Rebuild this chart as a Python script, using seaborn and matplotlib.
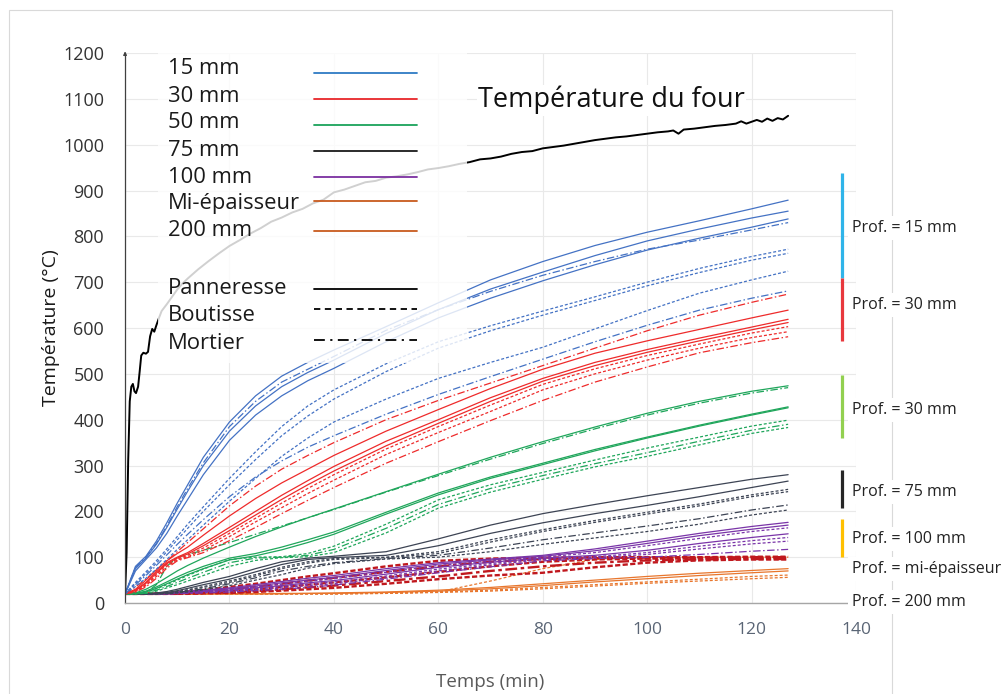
import matplotlib
matplotlib.use("Agg")
import matplotlib.pyplot as plt
import seaborn as sns
import pandas as pd
from matplotlib.patches import Rectangle

# ---------------- data ----------------
time_min = [0, 2, 4, 6, 8, 10, 12, 15, 20, 25, 30, 35, 40, 50, 60, 70, 80, 90, 100, 110, 120, 127]

# 15 mm
b15_pan1 = [20, 80, 102, 135, 175, 218, 258, 318, 395, 452, 495, 525, 552, 603, 655, 705, 745, 780, 809, 834, 860, 879]
b15_pan2 = [20, 75, 98, 128, 165, 205, 244, 300, 375, 430, 472, 503, 530, 588, 640, 685, 722, 758, 790, 816, 840, 855]
b15_pan3 = [20, 70, 95, 120, 152, 190, 226, 280, 355, 410, 452, 485, 512, 570, 622, 665, 703, 738, 770, 796, 820, 838]
b15_mor1 = [20, 78, 100, 130, 168, 210, 250, 306, 385, 440, 482, 510, 538, 595, 640, 680, 715, 745, 772, 792, 814, 830]
b15_bou1 = [20, 45, 68, 92, 118, 145, 172, 210, 272, 330, 385, 430, 465, 522, 570, 605, 637, 668, 700, 730, 756, 772]
b15_bou2 = [20, 42, 64, 87, 112, 138, 163, 200, 258, 313, 365, 408, 445, 505, 556, 594, 628, 660, 692, 721, 748, 763]
b15_bou3 = [20, 36, 54, 74, 95, 117, 138, 170, 222, 272, 320, 360, 395, 445, 490, 525, 558, 598, 638, 676, 705, 724]
b15_mor2 = [20, 40, 60, 82, 105, 128, 150, 182, 232, 275, 310, 340, 365, 412, 455, 494, 532, 570, 606, 639, 665, 681]
# 30 mm
r30_mor1 = [20, 35, 52, 72, 92, 112, 132, 162, 212, 255, 292, 322, 350, 400, 442, 480, 518, 556, 594, 628, 656, 674]
r30_pan1 = [20, 30, 50, 72, 92, 108, 122, 148, 190, 228, 262, 292, 322, 375, 422, 468, 510, 545, 572, 597, 622, 639]
r30_pan2 = [20, 28, 45, 68, 88, 100, 110, 130, 165, 200, 235, 267, 298, 353, 400, 448, 490, 525, 553, 578, 602, 619]
r30_pan3 = [20, 27, 43, 65, 86, 98, 107, 125, 158, 192, 226, 258, 288, 343, 392, 440, 484, 518, 547, 572, 596, 612]
r30_bou1 = [20, 26, 40, 62, 84, 96, 104, 120, 152, 185, 218, 250, 280, 336, 385, 432, 477, 511, 540, 565, 589, 603]
r30_bou2 = [20, 25, 38, 58, 80, 94, 101, 115, 145, 177, 208, 239, 268, 324, 372, 418, 465, 500, 530, 556, 579, 592]
r30_mor2 = [20, 24, 35, 54, 76, 92, 99, 110, 136, 165, 195, 224, 252, 305, 352, 398, 442, 482, 515, 546, 568, 581]
# 50 mm
g50_pan1 = [20, 22, 30, 42, 56, 70, 82, 98, 122, 145, 166, 186, 205, 243, 281, 318, 352, 384, 414, 440, 462, 474]
g50_mor1 = [20, 20, 22, 40, 80, 100, 106, 115, 132, 150, 168, 186, 204, 242, 278, 314, 348, 380, 410, 436, 458, 470]
g50_pan2 = [20, 21, 26, 35, 46, 57, 67, 80, 98, 108, 122, 138, 155, 198, 240, 275, 305, 335, 362, 388, 412, 428]
g50_pan3 = [20, 20, 24, 32, 42, 52, 62, 75, 94, 103, 116, 132, 150, 194, 236, 272, 302, 332, 360, 386, 410, 426]
g50_bou1 = [20, 20, 24, 31, 40, 50, 60, 74, 95, 100, 101, 108, 124, 172, 225, 258, 285, 312, 338, 362, 386, 399]
g50_mor2 = [20, 20, 22, 28, 36, 45, 54, 67, 88, 98, 100, 104, 117, 163, 215, 250, 278, 304, 328, 353, 377, 390]
g50_bou2 = [20, 20, 21, 26, 33, 40, 48, 60, 80, 93, 99, 101, 110, 153, 207, 242, 270, 297, 320, 345, 370, 383]
# 75 mm
k75_pan1 = [20, 20, 20, 22, 25, 30, 36, 45, 58, 75, 90, 98, 102, 112, 140, 170, 195, 215, 234, 252, 270, 280]
k75_pan2 = [20, 20, 20, 21, 23, 27, 32, 40, 52, 68, 84, 95, 99, 104, 125, 152, 175, 195, 213, 232, 252, 266]
k75_bou1 = [20, 20, 20, 20, 22, 25, 29, 36, 48, 62, 78, 90, 97, 100, 112, 138, 160, 180, 198, 216, 236, 248]
k75_bou2 = [20, 20, 20, 20, 21, 24, 28, 34, 45, 59, 75, 87, 95, 99, 108, 133, 156, 176, 194, 212, 232, 243]
k75_mor1 = [20, 20, 20, 20, 21, 23, 26, 31, 42, 55, 70, 80, 88, 97, 104, 120, 138, 153, 168, 184, 203, 214]
k75_bou3 = [20, 20, 20, 20, 20, 22, 24, 29, 38, 50, 62, 76, 86, 96, 100, 112, 128, 142, 156, 172, 192, 203]
# 100 mm
p100_pan1 = [20, 20, 20, 21, 22, 24, 26, 28, 33, 40, 47, 54, 60, 75, 88, 96, 104, 118, 135, 152, 167, 176]
p100_pan2 = [20, 20, 20, 20, 21, 23, 25, 27, 31, 37, 44, 50, 56, 71, 85, 94, 102, 114, 130, 147, 161, 170]
p100_bou1 = [20, 20, 20, 20, 21, 22, 24, 26, 30, 35, 41, 47, 53, 67, 82, 92, 100, 110, 125, 141, 156, 164]
p100_pan3 = [20, 20, 20, 20, 20, 22, 23, 25, 28, 33, 38, 44, 49, 63, 78, 89, 98, 104, 115, 130, 143, 151]
p100_bou2 = [20, 20, 20, 20, 20, 21, 22, 24, 27, 31, 36, 41, 46, 59, 74, 86, 97, 101, 110, 124, 136, 143]
p100_bou3 = [20, 20, 20, 20, 20, 21, 22, 23, 26, 29, 33, 38, 42, 55, 70, 83, 95, 99, 106, 118, 129, 135]
p100_mor1 = [20, 20, 20, 20, 20, 20, 21, 22, 24, 27, 30, 34, 39, 52, 66, 79, 92, 97, 100, 106, 113, 117]
# mi-epaisseur
mid_bou1 = [20, 20, 20, 21, 22, 23, 25, 28, 35, 42, 50, 58, 65, 80, 92, 97, 99, 100, 100, 100, 101, 101]
mid_mor1 = [20, 20, 20, 20, 21, 22, 23, 25, 30, 36, 42, 49, 55, 68, 80, 90, 96, 98, 99, 99, 100, 100]
mid_bou2 = [20, 20, 20, 20, 20, 21, 22, 23, 26, 30, 35, 40, 45, 56, 68, 80, 90, 95, 97, 97, 98, 98]
mid_mor2 = [20, 20, 20, 20, 20, 20, 21, 22, 23, 26, 30, 34, 38, 48, 58, 70, 80, 88, 93, 95, 96, 96]
mid_bou3 = [20, 20, 20, 20, 20, 20, 20, 21, 22, 24, 27, 30, 33, 42, 52, 60, 66, 78, 88, 93, 95, 95]
mid_bou4 = [20, 20, 20, 20, 20, 20, 20, 20, 20, 20, 20, 20, 20, 21, 24, 48, 75, 95, 100, 100, 100, 100]
# 200 mm
o200_pan1 = [20, 20, 20, 20, 20, 20, 20, 20, 20, 20, 21, 21, 22, 24, 28, 34, 42, 50, 58, 65, 71, 75]
o200_pan2 = [20, 20, 20, 20, 20, 20, 20, 20, 20, 20, 20, 21, 21, 23, 26, 31, 38, 46, 53, 60, 66, 70]
o200_bou1 = [20, 20, 20, 20, 20, 20, 20, 20, 20, 20, 20, 20, 20, 22, 24, 28, 34, 40, 46, 52, 58, 61]
o200_bou2 = [20, 20, 20, 20, 20, 20, 20, 20, 20, 20, 20, 20, 20, 21, 23, 26, 31, 37, 43, 48, 53, 56]

furnace_time = [0, 0.3, 0.6, 0.9, 1.2, 1.5, 1.8, 2.1, 2.5, 2.8,
                3.1, 3.5, 4.0, 4.4, 4.8, 5.2, 5.6, 6.0, 6.5, 7,
                8, 9, 10, 11, 12, 13, 14, 15, 16, 18,
                20, 22, 24, 26, 28, 30, 32, 34, 36, 38,
                40, 42, 44, 46, 48, 50, 52, 54, 56, 58,
                60, 62, 64, 66, 68, 70, 72, 74, 76, 78,
                80, 82, 84, 86, 88, 90, 92, 94, 96, 98,
                100, 102, 104, 105, 106, 107, 109, 111, 113, 115,
                117, 118, 119, 120, 121, 122, 123, 124, 125, 126, 127]
furnace_temp = [20, 110, 310, 440, 472, 478, 462, 458, 472, 505,
                540, 546, 544, 548, 582, 598, 592, 606, 622, 637,
                652, 668, 684, 697, 708, 718, 728, 737, 746, 763,
                779, 792, 806, 818, 832, 841, 852, 860, 872, 880,
                896, 902, 910, 918, 921, 928, 931, 935, 940, 946,
                949, 953, 958, 962, 968, 970, 974, 980, 984, 986,
                992, 995, 998, 1002, 1006, 1010, 1013, 1016, 1018, 1021,
                1024, 1027, 1029, 1031, 1024, 1033, 1035, 1038, 1041, 1043,
                1046, 1051, 1046, 1050, 1054, 1050, 1057, 1052, 1058, 1055, 1063]

legend_labels = ["15 mm", "30 mm", "50 mm", "75 mm", "100 mm", "Mi-épaisseur", "200 mm",
                 "Panneresse", "Boutisse", "Mortier"]
prof_labels = ["Prof. = 15 mm", "Prof. = 30 mm", "Prof. = 30 mm", "Prof. = 75 mm",
               "Prof. = 100 mm", "Prof. = mi-épaisseur", "Prof. = 200 mm"]
prof_label_temp = [818, 650, 421, 242, 140, 74, 2]
bracket_lo = [709, 572, 360, 207, 100]
bracket_hi = [938, 709, 497, 290, 183]
bracket_colors = ["#2fb4e9", "#e8383d", "#92d050", "#262626", "#ffc000"]

# ---------------- styles ----------------
depth_colors = {"15": "#4472c4", "30": "#ee2b2b", "50": "#1fa65b", "75": "#3d4454",
                "100": "#7a35a8", "mid": "#c0181e", "midO": "#e8762d", "200": "#e8762d"}
kind_styles = {"pan": "-", "bou": (0, (2.4, 1.6)), "mor": (0, (6, 2, 1.2, 2))}

series = [
    ("200", "pan", o200_pan1), ("200", "pan", o200_pan2), ("200", "bou", o200_bou1), ("200", "bou", o200_bou2),
    ("midO", "bou", mid_bou4),
    ("mid", "bou", mid_bou1), ("mid", "mor", mid_mor1), ("mid", "bou", mid_bou2),
    ("mid", "mor", mid_mor2), ("mid", "bou", mid_bou3),
    ("100", "pan", p100_pan1), ("100", "pan", p100_pan2), ("100", "bou", p100_bou1), ("100", "pan", p100_pan3),
    ("100", "bou", p100_bou2), ("100", "bou", p100_bou3), ("100", "mor", p100_mor1),
    ("75", "pan", k75_pan1), ("75", "pan", k75_pan2), ("75", "bou", k75_bou1), ("75", "bou", k75_bou2),
    ("75", "mor", k75_mor1), ("75", "bou", k75_bou3),
    ("50", "pan", g50_pan1), ("50", "mor", g50_mor1), ("50", "pan", g50_pan2), ("50", "pan", g50_pan3),
    ("50", "bou", g50_bou1), ("50", "mor", g50_mor2), ("50", "bou", g50_bou2),
    ("30", "mor", r30_mor1), ("30", "pan", r30_pan1), ("30", "pan", r30_pan2), ("30", "pan", r30_pan3),
    ("30", "bou", r30_bou1), ("30", "bou", r30_bou2), ("30", "mor", r30_mor2),
    ("15", "pan", b15_pan1), ("15", "pan", b15_pan2), ("15", "pan", b15_pan3), ("15", "mor", b15_mor1),
    ("15", "bou", b15_bou1), ("15", "bou", b15_bou2), ("15", "bou", b15_bou3), ("15", "mor", b15_mor2),
]

# ---------------- figure ----------------
sns.set_theme(style="white")
plt.rcParams["font.family"] = ["Open Sans", "DejaVu Sans"]

fig = plt.figure(figsize=(10.06, 6.94), dpi=100)
ax = fig.add_axes([0.1243, 0.1311, 0.7266, 0.7925])

for depth, kind, vals in series:
    lw = 0.9
    ls = kind_styles[kind]
    if depth == "mid":
        lw = 1.7
        ls = (0, (2.2, 1.0)) if kind == "bou" else (0, (5, 1.5, 1.5, 1.5))
    sns.lineplot(x=time_min, y=vals, ax=ax, color=depth_colors[depth], linewidth=lw,
                 linestyle=ls, estimator=None, legend=False, zorder=2)

sns.lineplot(x=furnace_time, y=furnace_temp, ax=ax, color="black", linewidth=1.4,
             estimator=None, legend=False, zorder=2)

# semi-transparent legend panel
ax.add_patch(Rectangle((6.3, 523), 59.2, 700, facecolor="white", edgecolor="none",
                       alpha=0.82, zorder=3))

# manual legend (text left, sample line right)
text_y = [0.9727, 0.9218, 0.8745, 0.8236, 0.7745, 0.7255, 0.6764, 0.5727, 0.5236, 0.4727]
line_y = [0.9636, 0.9164, 0.8691, 0.8218, 0.7745, 0.7309, 0.6764, 0.5709, 0.5345, 0.4782]
leg_colors = ["#2e7bc4", "#e8262a", "#1aa35a", "#1a1a1a", "#7b2fa0", "#c85a1e", "#c85a1e",
              "black", "black", "black"]
leg_styles = ["-"] * 8 + [(0, (3.5, 2.5)), (0, (6, 3, 1.2, 3))]
for lab, ty, lyy, c, s in zip(legend_labels, text_y, line_y, leg_colors, leg_styles):
    ax.text(0.0588, ty, lab, transform=ax.transAxes, va="center", ha="left",
            fontsize=15.8, color="#1a1a1a", zorder=4)
    ax.plot([0.2585, 0.3995], [lyy, lyy], transform=ax.transAxes, color=c,
            linestyle=s, linewidth=1.3, zorder=4)

ax.text(67.6, 1097, "Température du four", fontsize=19.5, va="center", ha="left",
        color="#111111", bbox=dict(facecolor="white", edgecolor="none", pad=1), zorder=4)

# right-hand annotations
ax.vlines([137.3] * len(bracket_lo), bracket_lo, bracket_hi, colors=bracket_colors,
          linewidth=2.3, clip_on=False, zorder=5)
for lab, yv in zip(prof_labels, prof_label_temp):
    ax.text(139.2, yv, lab, fontsize=11.5, va="center", ha="left", color="#222222",
            bbox=dict(facecolor="white", edgecolor="none", pad=3), clip_on=False, zorder=6)

# axes cosmetics
ax.set_xlim(0, 140)
ax.set_ylim(0, 1200)
ax.set_xticks(range(0, 141, 20))
ax.set_yticks(range(0, 1201, 100))
ax.tick_params(axis="both", length=0)
ax.tick_params(axis="x", pad=14, labelsize=12.5, labelcolor="#5a6575")
ax.tick_params(axis="y", pad=15, labelsize=13, labelcolor="#333333")
ax.grid(True, color="#e9e9e9", linewidth=0.8)
ax.set_axisbelow(True)
for side in ("top", "right"):
    ax.spines[side].set_visible(False)
ax.spines["left"].set_color("#404040")
ax.spines["left"].set_linewidth(0.9)
ax.spines["bottom"].set_color("#a6a6a6")
ax.spines["bottom"].set_linewidth(1.0)
ax.annotate("", xy=(0, 1.008), xytext=(0, 0.99), xycoords="axes fraction",
            arrowprops=dict(arrowstyle="-|>", color="#404040", lw=0.8, mutation_scale=5))

ax.set_xlabel("Temps (min)", fontsize=13.5, color="#595959", labelpad=25)
ax.set_ylabel("Température (°C)", fontsize=14, color="#1a1a1a", labelpad=2)

# outer chart frame
fig.patches.append(Rectangle((9 / 1006, -0.05), 883 / 1006, 684 / 694 + 0.05,
                             transform=fig.transFigure, fill=False,
                             edgecolor="#d9d9d9", linewidth=0.8, zorder=-1))

fig.savefig("out.png", dpi=100)
